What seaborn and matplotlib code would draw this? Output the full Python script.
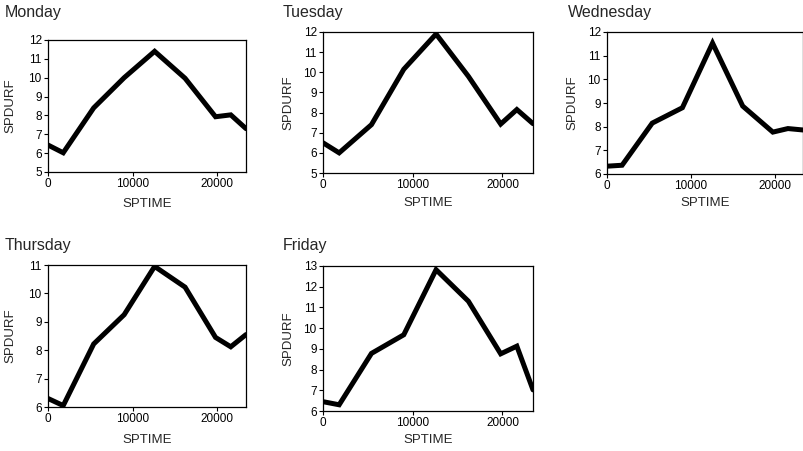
import matplotlib
matplotlib.use("Agg")
import matplotlib.pyplot as plt
import seaborn as sns
import pandas as pd

sns.set_style("ticks")
plt.rcParams['font.family'] = ['Liberation Sans', 'DejaVu Sans']

sptime = [0, 1800, 5400, 9000, 12600, 16200, 19800, 21600, 23400]
monday = [6.43, 6.02, 8.4, 10.0, 11.4, 9.97, 7.93, 8.03, 7.3]
tuesday = [6.5, 6.0, 7.4, 10.15, 11.9, 9.8, 7.43, 8.15, 7.45]
wednesday = [6.33, 6.37, 8.15, 8.8, 11.53, 8.87, 7.77, 7.92, 7.86]
thursday = [6.3, 6.05, 8.22, 9.25, 10.95, 10.22, 8.45, 8.12, 8.55]
friday = [6.45, 6.3, 8.78, 9.68, 12.82, 11.3, 8.76, 9.13, 7.02]

days = ["Monday", "Tuesday", "Wednesday", "Thursday", "Friday"]
series = [monday, tuesday, wednesday, thursday, friday]
ylims = [(5, 12), (5, 12), (6, 12), (6, 11), (6, 13)]

W, H = 804, 451
# axes boxes in pixels: left, top, right, bottom
boxes = [(48, 40, 246, 172), (323, 32, 533, 173), (607, 32, 803, 174),
         (48, 265, 246, 407), (323, 266, 533, 411)]
titles_xy = [(5, 5), (283, 5), (568, 5), (5, 238), (283, 238)]
ylabel_x = [10, 288, 572, 10, 288]
xlabel_y = [204, 203, 203, 440, 440]

fig = plt.figure(figsize=(W / 100, H / 100), dpi=100)
for i, (day, vals) in enumerate(zip(days, series)):
    l, t, r, b = boxes[i]
    ax = fig.add_axes([l / W, 1 - b / H, (r - l) / W, (b - t) / H])
    df = pd.DataFrame({"SPTIME": sptime, "SPDURF": vals})
    sns.lineplot(data=df, x="SPTIME", y="SPDURF", ax=ax, color="black",
                 linewidth=3.6, solid_joinstyle="miter")
    ax.set_xlim(0, 23400)
    ax.set_ylim(*ylims[i])
    ax.set_xticks([0, 10000, 20000])
    ax.set_yticks(range(ylims[i][0], ylims[i][1] + 1))
    for s in ax.spines.values():
        s.set_visible(True)
        s.set_linewidth(0.9)
        s.set_color("black")
    ax.tick_params(axis="both", direction="out", length=3, width=0.8,
                   labelsize=8.5, pad=1.5, colors="black")
    ax.set_xlabel("SPTIME", fontsize=9.5)
    ax.set_ylabel("SPDURF", fontsize=9.5)
    ax.xaxis.set_label_coords(0.5, -(xlabel_y[i] - b) / (b - t))
    ax.yaxis.set_label_coords((ylabel_x[i] - l) / (r - l), 0.5)
    ax.xaxis.label.set_va("center")
    ax.yaxis.label.set_va("center")
    tx, ty = titles_xy[i]
    fig.text(tx / W, 1 - ty / H, day, fontsize=11.5, ha="left", va="top")

fig.savefig("out.png", dpi=100)
